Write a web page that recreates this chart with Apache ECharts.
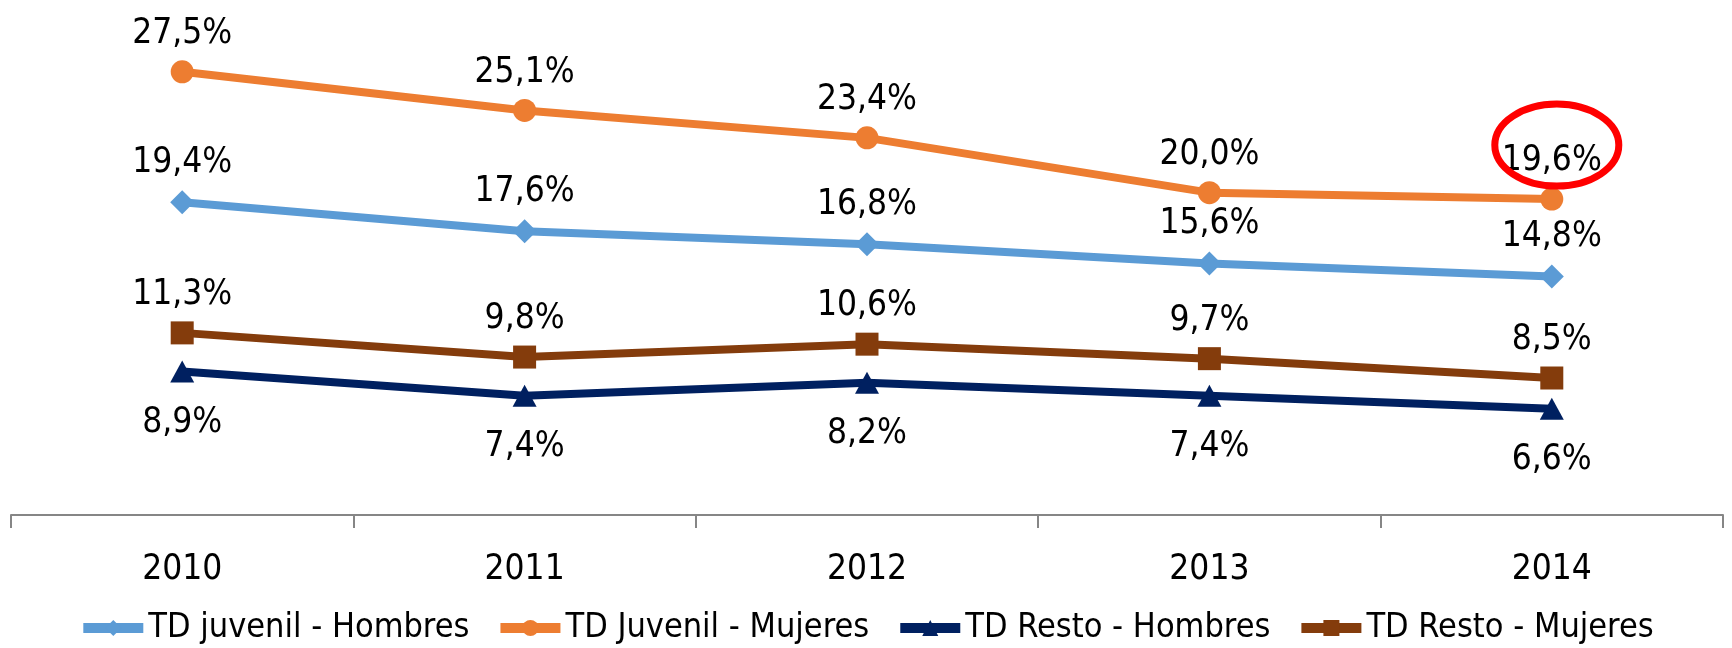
<!DOCTYPE html>
<html>
<head>
<meta charset="utf-8">
<script src="https://cdn.jsdelivr.net/npm/echarts@6/dist/echarts.min.js"></script>
<style>
  html, body { margin: 0; padding: 0; background: #fff; }
  #chart { width: 1732px; height: 648px; }
</style>
</head>
<body>
<div id="chart"></div>
<script>
// datos
const years = ['2010', '2011', '2012', '2013', '2014'];
const juvenilHombres = [19.4, 17.6, 16.8, 15.6, 14.8];
const juvenilMujeres = [27.5, 25.1, 23.4, 20.0, 19.6];
const restoHombres = [8.9, 7.4, 8.2, 7.4, 6.6];
const restoMujeres = [11.3, 9.8, 10.6, 9.7, 8.5];

const FONT = "'DejaVu Sans Condensed', 'Liberation Sans', sans-serif";
const FS = 35;

function pct(p) {
  return p.value.toFixed(1).replace('.', ',') + '%';
}

function lineSeries(name, data, color, symbol, size, pos, dist) {
  return {
    name: name,
    type: 'line',
    data: data,
    symbol: symbol,
    symbolSize: size,
    lineStyle: { color: color, width: 8 },
    itemStyle: { color: color },
    label: {
      show: true,
      position: pos,
      distance: dist,
      formatter: pct,
      color: '#000',
      fontFamily: FONT,
      fontSize: FS
    }
  };
}

let chart = echarts.init(document.getElementById('chart'));
chart.setOption({
  animation: false,
  backgroundColor: '#fff',
  grid: { left: 11, right: 9, top: 31.5, bottom: 133 },
  legend: {
    top: 606,
    left: 'center',
    itemWidth: 60,
    itemHeight: 20,
    itemGap: 26,
    lineStyle: { width: 10 },
    textStyle: { color: '#000', fontFamily: FONT, fontSize: 34 }
  },
  xAxis: {
    type: 'category',
    data: years,
    boundaryGap: true,
    axisLine: { lineStyle: { color: '#868686', width: 2 } },
    axisTick: { show: true, length: 13, lineStyle: { color: '#868686', width: 2 } },
    axisLabel: { color: '#000', fontFamily: FONT, fontSize: FS, margin: 37 }
  },
  yAxis: {
    type: 'value',
    min: 0,
    max: 30,
    show: false,
    splitLine: { show: false }
  },
  series: [
    lineSeries('TD juvenil - Hombres', juvenilHombres, '#5B9BD5', 'diamond', [24, 24], 'top', 10),
    lineSeries('TD Juvenil - Mujeres', juvenilMujeres, '#ED7D31', 'circle', 23, 'top', 9),
    lineSeries('TD Resto - Hombres', restoHombres, '#002060', 'triangle', [24, 22], 'bottom', 23),
    lineSeries('TD Resto - Mujeres', restoMujeres, '#843C0C', 'rect', 23, 'top', 9)
  ]
});

// elipse roja que resalta el ultimo valor de mujeres jovenes
const p = chart.convertToPixel({ seriesIndex: 1 }, [4, juvenilMujeres[4]]);
chart.setOption({
  graphic: [{
    type: 'ellipse',
    shape: { cx: p[0] + 5, cy: p[1] - 54, rx: 62, ry: 41 },
    style: { fill: 'none', stroke: '#FF0000', lineWidth: 7 },
    z: 100
  }]
});
</script>
</body>
</html>
